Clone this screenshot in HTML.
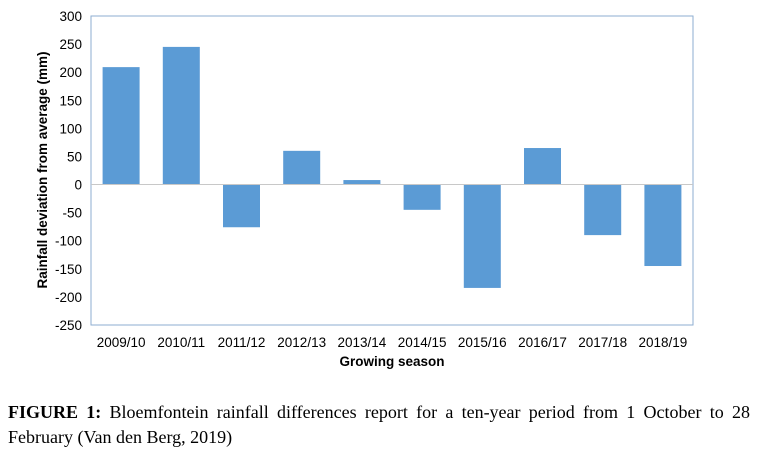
<!DOCTYPE html>
<html><head><meta charset="utf-8"><style>
body{margin:0;background:#fff;width:758px;height:461px;overflow:hidden;position:relative}
svg{position:absolute;left:0;top:0}
.cap{position:absolute;left:8px;top:400px;width:742px;font-family:"Liberation Serif",serif;font-size:18px;line-height:25px;color:#000}
.l1{display:block;text-align:justify;text-align-last:justify;white-space:nowrap}
</style></head><body>
<svg width="758" height="400" font-family="Liberation Sans, sans-serif">
<g id="g"></g>
</svg>
<div class="cap"><span class="l1"><b>FIGURE 1:</b> Bloemfontein rainfall differences report for a ten-year period from 1 October to 28</span>February (Van den Berg, 2019)</div>
<script>
const categories=["2009/10","2010/11","2011/12","2012/13","2013/14","2014/15","2015/16","2016/17","2017/18","2018/19"];
const values=[209,245,-76,60,8,-45,-184,65,-90,-145];
const yTicks=[300,250,200,150,100,50,0,-50,-100,-150,-200,-250];
const L=91,R=693,T=16,B=325,yMax=300,yMin=-250;
const y=v=>T+(yMax-v)*(B-T)/(yMax-yMin);
const bw=(R-L)/categories.length;
const x=i=>L+i*bw;
const g=document.getElementById('g');
const NS="http://www.w3.org/2000/svg";
function mk(t,a){const e=document.createElementNS(NS,t);for(const k in a)e.setAttribute(k,a[k]);g.appendChild(e);return e;}
let e=mk('rect',{x:L,y:T,width:R-L,height:B-T,fill:'none',stroke:'#8eaed0','stroke-width':1});


yTicks.forEach(v=>{
 const t=mk('text',{x:L-9,y:y(v)+5,'text-anchor':'end','font-size':13.5,fill:'#000'});
 t.textContent=v;
 
 
});
values.forEach((v,i)=>{
 const w=37,cx=x(i)+bw/2;
 const r=mk('rect',{x:cx-w/2,y:Math.min(y(v),y(0)),width:w,height:Math.abs(y(v)-y(0)),fill:'#5b9bd5'});
 
 
 const t=mk('text',{x:cx,y:B+22,'text-anchor':'middle','font-size':13.5,fill:'#000'});
 t.textContent=categories[i];
 
 
});
e=mk('line',{x1:L,x2:R,y1:y(0),y2:y(0),stroke:'#c8c8c8','stroke-width':1});


e=mk('text',{x:(L+R)/2,y:B+41,'text-anchor':'middle','font-size':13.5,'font-weight':'bold'});
e.textContent='Growing season';


e=mk('text',{x:0,y:0,'text-anchor':'middle','font-size':13.5,'font-weight':'bold',transform:'translate(47,170) rotate(-90)'});
e.textContent='Rainfall deviation from average (mm)';


</script>
</body></html>
